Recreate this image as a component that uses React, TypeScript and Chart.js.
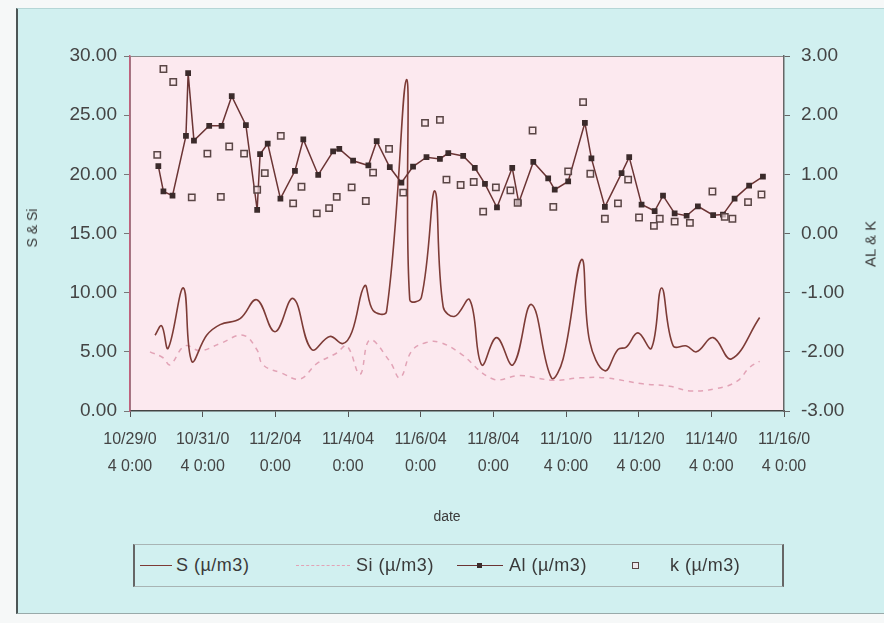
import React, { useEffect, useRef } from "react";
import { Chart, registerables } from "chart.js";
Chart.register(...registerables);

// x tick labels (every 2 days)
const xTickLabels = [
  "10/29/04 0:00", "10/31/04 0:00", "11/2/04 0:00", "11/4/04 0:00", "11/6/04 0:00",
  "11/8/04 0:00", "11/10/04 0:00", "11/12/04 0:00", "11/14/04 0:00", "11/16/04 0:00",
];

// sample times in days since 10/29/04 0:00
const sDays = [0.69, 0.87, 1.05, 1.47, 1.7, 2.11, 2.48, 3.03, 3.49, 3.99, 4.49, 5.0, 5.5, 5.86, 6.11, 6.46, 6.69, 7.06, 7.61, 7.7, 8.02, 8.39, 8.62, 8.94, 9.35, 9.68, 10.09, 10.54, 11.05, 11.6, 11.92, 12.43, 12.65, 13.07, 13.43, 13.66, 13.98, 14.35, 14.63, 14.95, 15.32, 15.59, 16.05, 16.55, 17.33];
const sValues = [6.4, 7.2, 5.3, 10.4, 4.2, 6.4, 7.3, 7.8, 9.4, 6.7, 9.5, 5.2, 6.3, 5.7, 6.7, 10.6, 8.5, 8.4, 28.0, 9.4, 9.6, 18.6, 8.8, 8.0, 9.4, 3.9, 6.2, 3.9, 9.0, 2.8, 4.4, 12.8, 5.9, 3.4, 5.2, 5.4, 6.6, 5.3, 10.4, 5.5, 5.5, 5.0, 6.2, 4.4, 7.9];

const siDays = [0.55, 0.91, 1.1, 1.51, 1.93, 2.48, 3.11, 3.49, 3.66, 4.18, 4.68, 5.14, 5.69, 5.97, 6.33, 6.6, 7.15, 7.43, 7.76, 8.17, 8.53, 9.08, 9.99, 10.73, 11.64, 12.38, 13.07, 14.11, 14.85, 15.41, 16.15, 16.7, 17.06, 17.33];
const siValues = [5.0, 4.5, 3.9, 5.5, 5.1, 5.7, 6.4, 5.2, 3.9, 3.2, 2.7, 4.0, 4.9, 5.5, 3.1, 6.0, 4.2, 2.8, 5.1, 5.8, 5.8, 4.9, 2.7, 3.0, 2.6, 2.8, 2.8, 2.3, 2.1, 1.7, 1.9, 2.5, 3.7, 4.2];

const alDays = [0.78, 0.92, 1.17, 1.54, 1.6, 1.76, 2.18, 2.52, 2.8, 3.19, 3.5, 3.58, 3.79, 4.14, 4.54, 4.77, 5.18, 5.59, 5.76, 6.14, 6.56, 6.79, 7.15, 7.47, 7.79, 8.16, 8.53, 8.76, 9.17, 9.49, 9.77, 10.1, 10.52, 10.7, 11.1, 11.51, 11.69, 12.06, 12.52, 12.7, 13.07, 13.53, 13.74, 14.08, 14.44, 14.67, 14.99, 15.32, 15.63, 16.05, 16.32, 16.64, 17.04, 17.42];
const alValues = [1.14, 0.71, 0.64, 1.65, 2.71, 1.57, 1.82, 1.82, 2.32, 1.83, 0.4, 1.34, 1.52, 0.59, 1.06, 1.59, 0.99, 1.39, 1.43, 1.23, 1.15, 1.56, 1.12, 0.86, 1.13, 1.29, 1.26, 1.36, 1.31, 1.11, 0.84, 0.44, 1.11, 0.52, 1.21, 0.93, 0.74, 0.88, 1.87, 1.27, 0.45, 1.02, 1.29, 0.49, 0.38, 0.64, 0.34, 0.3, 0.46, 0.31, 0.32, 0.59, 0.81, 0.96];

const kDays = [0.75, 0.92, 1.19, 1.7, 2.13, 2.5, 2.73, 3.14, 3.5, 3.71, 4.15, 4.49, 4.72, 5.14, 5.48, 5.69, 6.1, 6.49, 6.69, 7.13, 7.52, 8.12, 8.53, 8.71, 9.1, 9.46, 9.72, 10.07, 10.47, 10.67, 11.08, 11.65, 12.06, 12.47, 12.67, 13.07, 13.43, 13.71, 14.01, 14.42, 14.58, 14.99, 15.41, 16.03, 16.37, 16.58, 17.01, 17.38];
const kValues = [1.33, 2.78, 2.56, 0.61, 1.35, 0.62, 1.47, 1.35, 0.74, 1.02, 1.65, 0.51, 0.79, 0.34, 0.43, 0.62, 0.78, 0.55, 1.03, 1.43, 0.69, 1.87, 1.92, 0.91, 0.82, 0.87, 0.37, 0.78, 0.73, 0.52, 1.74, 0.45, 1.05, 2.22, 1.01, 0.25, 0.51, 0.91, 0.27, 0.13, 0.25, 0.2, 0.18, 0.71, 0.28, 0.25, 0.53, 0.66];

const seriesLabels = ["S (µ/m3)", "Si (µ/m3)", "Al (µ/m3)", "k (µ/m3)"];
const leftTitle = "S & Si";
const rightTitle = "AL & K";
const xTitle = "date";

const S_COLOR = "#7d3b36";
const SI_COLOR = "#e2a3b6";
const AL_LINE = "#6b3434";
const AL_POINT = "#3b2b2b";
const K_BORDER = "#5a4646";
const FONT = '"Liberation Sans", Arial, sans-serif';

const pts = (xs: number[], ys: number[]) => xs.map((x, i) => ({ x, y: ys[i] }));

const plotBg = {
  id: "plotBg",
  beforeDraw(chart: any) {
    const { ctx, chartArea } = chart;
    const { left, top, width, height } = chartArea;
    ctx.save();
    ctx.fillStyle = "#fce9ef";
    ctx.fillRect(left, top, width, height);
    ctx.strokeStyle = "#8a8a8a";
    ctx.lineWidth = 1;
    ctx.strokeRect(left + 0.5, top + 0.5, width - 1, height - 1);
    ctx.restore();
  },
};

function splitLabel(s: string) {
  return [s.slice(0, 7), s.slice(7).trim()];
}

export default function App() {
  const ref = useRef<HTMLCanvasElement>(null);
  useEffect(() => {
    const chart = new Chart(ref.current as HTMLCanvasElement, {
      type: "line",
      data: {
        datasets: [
          {
            label: seriesLabels[0],
            data: pts(sDays, sValues),
            yAxisID: "y",
            borderColor: S_COLOR,
            borderWidth: 1.6,
            pointRadius: 0,
            tension: 0.4,
            order: 3,
          },
          {
            label: seriesLabels[1],
            data: pts(siDays, siValues),
            yAxisID: "y",
            borderColor: SI_COLOR,
            borderWidth: 1.5,
            borderDash: [5, 5],
            pointRadius: 0,
            tension: 0.4,
            order: 4,
          },
          {
            label: seriesLabels[2],
            data: pts(alDays, alValues),
            yAxisID: "y1",
            borderColor: AL_LINE,
            borderWidth: 1.5,
            pointStyle: "rect",
            pointRadius: 3,
            pointBackgroundColor: AL_POINT,
            pointBorderColor: AL_POINT,
            tension: 0,
            order: 2,
          },
          {
            label: seriesLabels[3],
            data: pts(kDays, kValues),
            yAxisID: "y1",
            showLine: false,
            pointStyle: "rect",
            pointRadius: 4.5,
            pointBorderWidth: 1.5,
            pointBackgroundColor: "rgba(250,228,232,0.7)",
            pointBorderColor: K_BORDER,
            order: 1,
          },
        ],
      },
      options: {
        responsive: false,
        animation: false,
        layout: { padding: { left: 30, right: 20, top: 56, bottom: 19 } },
        plugins: { legend: { display: false }, tooltip: { enabled: false } },
        scales: {
          x: {
            type: "linear",
            min: 0,
            max: 18,
            afterFit: (s: any) => { s.height = 100; },
            afterBuildTicks: (s: any) => {
              s.ticks = xTickLabels.map((_, i) => ({ value: i * 2 }));
            },
            ticks: {
              stepSize: 2,
              autoSkip: false,
              maxRotation: 0,
              padding: 9,
              color: "#444",
              font: { family: FONT, size: 16, lineHeight: 1.7 },
              callback: (v: any) => splitLabel(xTickLabels[Math.round(Number(v) / 2)] || ""),
            },
            grid: { drawOnChartArea: false, tickLength: 6, color: "#555" },
            border: { color: "#444", width: 1.5 },
          },
          y: {
            type: "linear",
            position: "left",
            min: 0,
            max: 30,
            afterFit: (s: any) => { s.width = 100; },
            ticks: {
              stepSize: 5,
              padding: 7,
              color: "#444",
              font: { family: FONT, size: 19 },
              callback: (v: any) => Number(v).toFixed(2),
            },
            grid: { drawOnChartArea: false, tickLength: 6, color: "#777" },
            border: { color: "#c0607c", width: 1.5 },
          },
          y1: {
            type: "linear",
            position: "right",
            min: -3,
            max: 3,
            afterFit: (s: any) => { s.width = 80; },
            ticks: {
              stepSize: 1,
              padding: 11,
              color: "#444",
              font: { family: FONT, size: 19 },
              callback: (v: any) => Number(v).toFixed(2),
            },
            grid: { drawOnChartArea: false, tickLength: 6, color: "#666" },
            border: { color: "#666", width: 1.5 },
          },
        },
      },
      plugins: [plotBg],
    } as any);
    return () => chart.destroy();
  }, []);

  const txt: React.CSSProperties = { position: "absolute", color: "#3a3a3a", fontFamily: FONT, whiteSpace: "nowrap" };
  const leg: React.CSSProperties = { ...txt, fontSize: 18, letterSpacing: 0.5, transform: "translateY(-50%)" };

  return (
    <div style={{ position: "absolute", left: 0, top: 0, width: 884, height: 623, background: "#f6f8f8", overflow: "hidden", fontFamily: FONT }}>
      <div style={{ position: "absolute", left: 16, top: 8, width: 870, height: 604, background: "#d1f0f0", borderLeft: "2px solid #4c5656", borderTop: "1px solid #b5d6d6", borderBottom: "1px solid #9aa" }} />
      <canvas ref={ref} width={884} height={530} style={{ position: "absolute", left: 0, top: 0, width: 884, height: 530 }} />
      <div style={{ ...txt, left: 32, top: 228, fontSize: 14, transform: "translate(-50%,-50%) rotate(-90deg)" }}>{leftTitle}</div>
      <div style={{ ...txt, left: 870, top: 244, fontSize: 15, transform: "translate(-50%,-50%) rotate(-90deg)" }}>{rightTitle}</div>
      <div style={{ ...txt, left: 447, top: 516, fontSize: 14, transform: "translate(-50%,-50%)" }}>{xTitle}</div>
      <div style={{ position: "absolute", left: 133, top: 544, width: 647, height: 41, border: "1px solid #a8b4b4", borderLeft: "2px solid #666", borderRight: "2px solid #666" }} />
      {/* S */}
      <div style={{ position: "absolute", left: 140, top: 565, width: 32, borderTop: `1.5px solid ${S_COLOR}` }} />
      <div style={{ ...leg, left: 176, top: 565 }}>{seriesLabels[0]}</div>
      {/* Si */}
      <div style={{ position: "absolute", left: 296, top: 565, width: 54, borderTop: `1.5px dashed ${SI_COLOR}` }} />
      <div style={{ ...leg, left: 356, top: 565 }}>{seriesLabels[1]}</div>
      {/* Al */}
      <div style={{ position: "absolute", left: 457, top: 565, width: 46, borderTop: `1.5px solid ${AL_LINE}` }} />
      <div style={{ position: "absolute", left: 477, top: 563, width: 5, height: 5, background: AL_POINT }} />
      <div style={{ ...leg, left: 509, top: 565 }}>{seriesLabels[2]}</div>
      {/* k */}
      <div style={{ position: "absolute", left: 632, top: 562, width: 5, height: 5, border: `1.5px solid ${K_BORDER}`, background: "rgba(250,228,232,0.7)" }} />
      <div style={{ ...leg, left: 670, top: 565 }}>{seriesLabels[3]}</div>
    </div>
  );
}
